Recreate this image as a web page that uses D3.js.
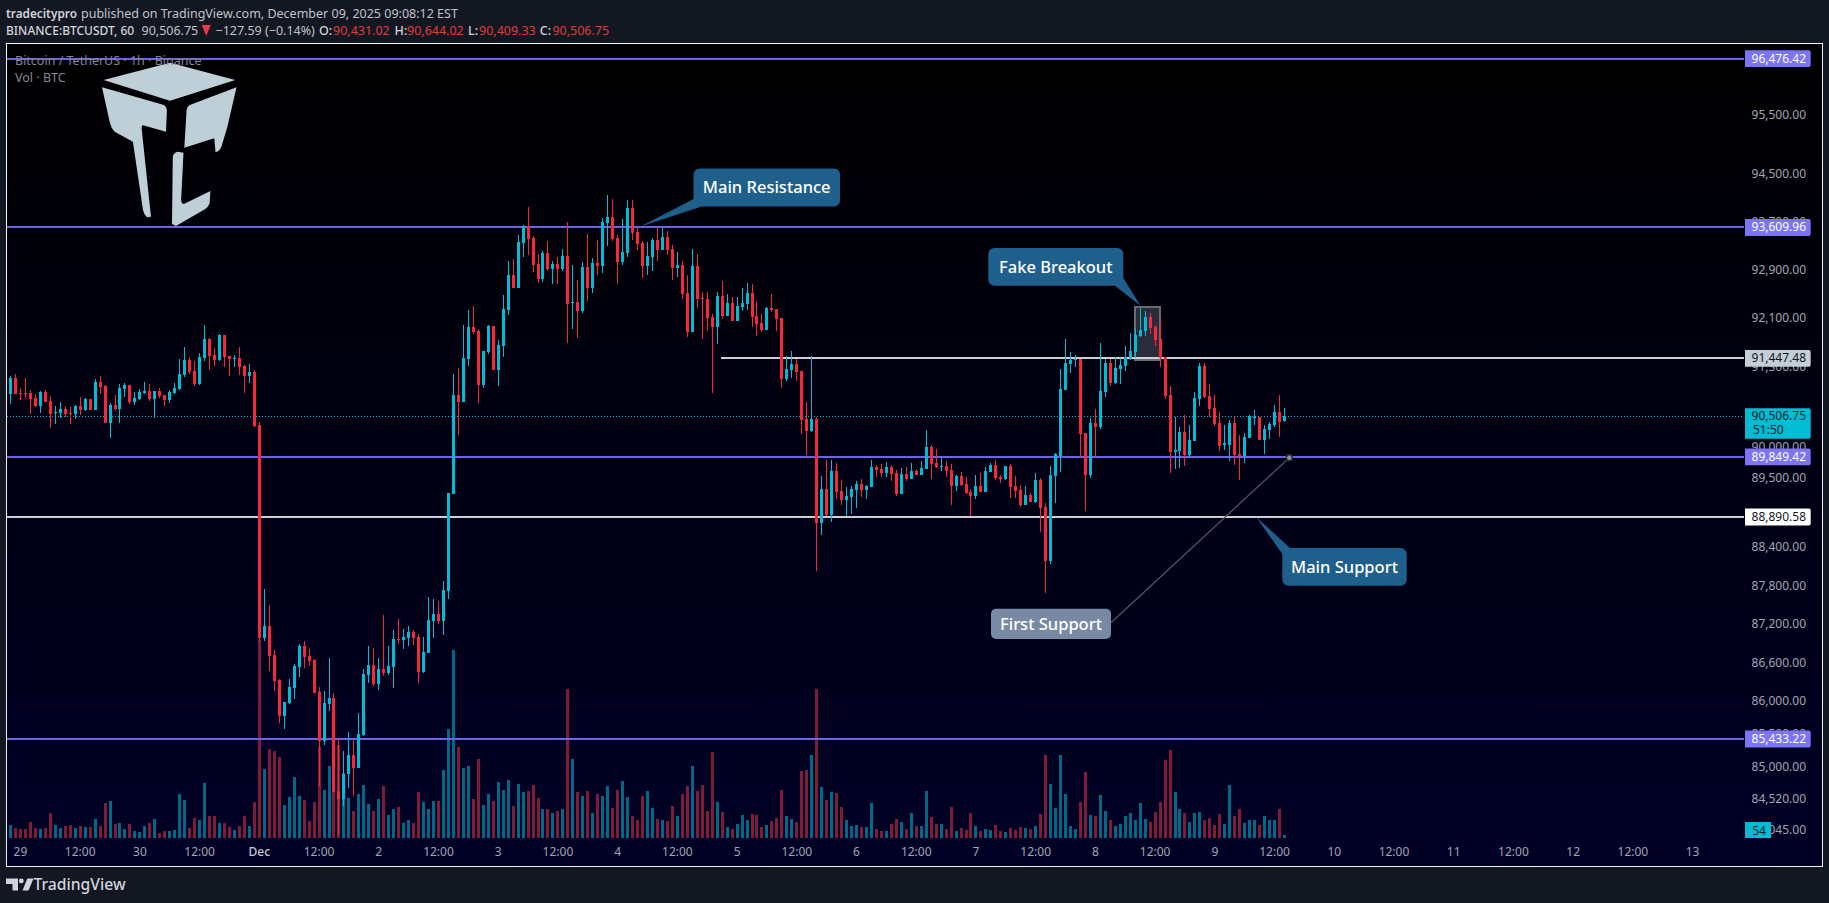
<!DOCTYPE html>
<html>
<head>
<meta charset="utf-8">
<style>
html,body{margin:0;padding:0;background:#131722;overflow:hidden}
svg{display:block}
text{font-family:"Noto Sans",sans-serif}
</style>
<script src="https://cdn.jsdelivr.net/npm/d3@7"></script>
</head>
<body>
<svg id="c" width="1829" height="903"></svg>
<script>
const opens=[
90866,91128,90882,90882,90882,90801,90670,90899,90752,90561,
90555,90621,90555,90539,90670,90604,90784,90604,91062,90997,
90392,90686,90621,90948,91013,90735,90784,90882,90915,90784,
90915,90850,90768,90882,90948,91177,91422,91242,91030,91455,
91765,91504,91422,91831,91487,91444,91455,91324,91160,91226,
90359,86988,87174,86724,86336,85778,85979,86212,86538,86864,
86708,86646,86150,85406,85964,86057,84646,84522,84894,85188,
84987,85499,86414,86569,86274,86507,86445,86538,86972,86957,
86988,87081,87003,86460,86755,87251,87360,87251,87718,89253,
90846,90738,91440,91962,91897,91016,91554,91979,91261,91652,
92240,92821,92604,93354,93637,93437,93004,92754,93187,92921,
93004,92921,93137,92354,92370,92223,92954,92604,93020,92971,
93687,93786,93437,93037,93187,93936,93537,93354,92971,93120,
93404,93237,93453,93254,92937,92987,92521,91881,92971,92438,
92421,92126,91962,92471,92142,92354,92060,92289,92338,92521,
92142,92028,91913,92272,92256,92109,91114,91261,91359,91244,
90461,90265,90460,88790,89336,88919,89625,89304,89160,89208,
89320,89416,89320,89368,89689,89657,89593,89689,89593,89256,
89577,89497,89625,89561,89657,90010,89753,89689,89705,89641,
89384,89545,89416,89288,89224,89384,89288,89609,89721,89529,
89497,89705,89384,89320,89079,89240,89127,89481,89047,88197,
89545,89869,90932,91357,91423,91439,90229,89559,90392,90327,
90899,91373,91046,91275,91324,91455,91553,91815,91897,92126,
91962,91766,91472,90850,89935,89951,90245,89886,90098,90785,
91324,90834,90638,90392,90049,90049,90392,89902,89869,90147,
90485,90491,90114,90278,90360,90572,90431.02];
const closes=[
91128,90866,90872,90872,90784,90670,90899,90735,90539,90572,
90621,90539,90539,90670,90604,90784,90604,91062,90980,90392,
90686,90621,90964,91013,90735,90801,90899,90915,90784,90915,
90833,90768,90899,90964,91193,91422,91226,91030,91471,91765,
91487,91422,91831,91471,91438,91455,91307,91160,91226,90343,
86993,87174,86708,86321,85778,85995,86228,86553,86864,86693,
86631,86135,85406,85979,86057,84630,84522,84894,85188,84987,
85514,86429,86569,86274,86507,86445,86553,86972,86957,87003,
87081,86988,86460,86770,87267,87360,87251,87732,89269,90846,
90733,91456,91962,91881,91016,91571,91979,91261,91669,92256,
92821,92604,93370,93637,93420,92987,92754,93187,92921,93004,
92921,93137,92338,92370,92223,92954,92604,93020,92971,93703,
93786,93420,93037,93204,93936,93520,93337,92971,93137,93404,
93237,93453,93237,92937,92987,92504,91881,92971,92421,92427,
92109,91962,92471,92142,92354,92060,92305,92354,92521,92126,
92011,91913,92272,92240,92093,91114,91277,91359,91228,90445,
90265,90461,88790,89336,88919,89625,89288,89160,89224,89336,
89416,89320,89384,89689,89641,89593,89689,89577,89256,89577,
89497,89625,89561,89673,90010,89737,89689,89705,89625,89384,
89545,89400,89272,89224,89384,89288,89625,89721,89513,89497,
89705,89368,89304,89079,89240,89127,89481,89031,88197,89561,
89898,90948,91373,91423,91439,90213,89559,90392,90327,90916,
91373,91046,91292,91341,91472,91570,91831,91913,92126,91946,
91750,91455,90834,89935,89967,90245,89886,90114,90801,91324,
90818,90621,90376,90033,90066,90392,89886,89869,90163,90507,
90491,90114,90294,90376,90572,90409,90506.75];
const highs=[
91160,91193,90964,91128,90932,90866,90915,90932,90833,90670,
90735,90670,90654,90686,90817,90801,90784,91111,91160,91013,
90719,90850,91030,91046,91013,90899,90948,91062,91030,90915,
90964,90850,90932,91046,91438,91634,91471,91406,91536,91994,
91782,91618,91847,91831,91487,91504,91634,91340,91357,91259,
90408,87748,87499,86802,86352,85995,86352,86584,86895,86941,
86817,86662,86228,86166,86677,86135,85452,85250,85545,85421,
85824,86507,86864,86833,86677,87344,86864,87112,87282,87127,
87174,87112,87050,87003,87624,87593,87561,87872,89269,91189,
91287,91995,92240,92305,91930,91571,91995,91979,91750,92488,
93054,93087,93487,93653,93953,93470,93170,93220,93387,93054,
93120,93254,93703,92987,92737,93037,93503,93104,93404,93770,
94153,94086,93487,93753,94070,94070,93603,93387,93370,93437,
93603,93603,93553,93320,93204,93054,92821,93254,93170,92538,
92538,92175,92538,92721,92504,92454,92454,92604,92688,92671,
92387,92175,92289,92504,92256,92109,91489,91571,91440,91244,
90738,91489,90497,89545,89801,89801,89753,89481,89368,89384,
89464,89497,89400,89801,89721,89737,89769,89721,89641,89673,
89689,89753,89657,89785,90283,90042,89978,89834,89785,89737,
89561,89609,89529,89336,89561,89593,89689,89753,89801,89561,
89705,89737,89545,89400,89384,89272,89593,89513,89111,89705,
89914,91275,91766,91553,91504,91439,90229,90474,90621,91700,
91439,91439,91472,91455,91651,91864,91946,92273,92224,92191,
91995,92126,91472,90997,90491,90327,90523,90360,90899,91373,
91373,91030,90850,90572,90360,90441,90491,90196,90229,90523,
90605,90491,90360,90409,90687,90850,90644.02];
const lows=[
90703,90866,90768,90801,90539,90654,90555,90735,90310,90376,
90474,90490,90376,90457,90523,90588,90604,90604,90866,90392,
90147,90604,90392,90817,90703,90686,90768,90866,90752,90474,
90801,90670,90719,90866,90932,91144,91193,90997,91013,91406,
91259,91324,91406,91307,91160,91307,91177,90882,91046,90327,
86950,86941,86476,86166,85685,85592,85964,86041,86383,86522,
86553,86135,84723,85344,85855,84630,83979,84413,84692,84568,
84987,85483,86290,86243,86181,86398,86414,86212,86895,86817,
86864,86879,86290,86445,86755,86988,87205,87034,87593,89253,
90199,90738,91326,91848,90722,90967,91522,91261,91000,91473,
92158,92604,92604,93120,93154,92871,92688,92704,92887,92671,
92671,92887,91701,91930,91783,92191,92387,92521,92821,92854,
93304,93387,92671,92987,93120,93404,93237,92771,92821,92887,
93054,93237,93154,92737,92787,92421,91799,91881,92272,91767,
91897,90885,91685,92093,92142,92060,92060,92223,92240,91962,
91815,91881,91913,92207,91897,90967,91081,91130,91081,90216,
89873,90249,88036,88598,88903,88806,89176,89079,88903,88935,
89031,89208,89176,89368,89529,89529,89529,89464,89224,89256,
89464,89497,89561,89561,89657,89497,89673,89625,89529,89079,
89304,89384,89256,88903,89176,89288,89288,89609,89481,89432,
89481,89192,89192,89047,89079,89127,89111,88646,87699,88148,
89111,89608,90932,91210,91308,89853,88990,89510,89853,90294,
90818,90997,91030,91030,91243,91423,91455,91799,91815,91848,
91651,91308,90785,89591,89657,89673,89706,89853,90098,90670,
90801,90491,90343,89951,89967,89787,89722,89477,89755,90147,
90360,90114,89902,90131,90327,90163,90409.33];
const volumes=[
234,180,162,162,288,180,162,180,450,234,
180,216,234,180,216,198,198,342,216,630,
666,252,270,162,252,126,108,216,270,342,
90,126,126,144,792,684,180,360,324,990,
396,396,270,270,198,144,216,396,216,648,
3564,1242,1602,1566,1458,594,738,1098,756,684,
306,648,1638,864,1296,2484,1674,1170,720,486,
792,954,612,486,702,936,414,522,558,270,
324,270,828,648,522,666,666,1224,1962,3384,
1638,1260,1296,702,1422,594,792,666,1008,864,
1044,576,972,828,846,954,720,522,522,450,
486,522,2682,1422,828,756,846,450,792,756,
936,540,864,1026,738,396,324,756,846,540,
342,324,306,576,396,792,936,1296,846,954,
486,1548,648,468,198,162,252,414,324,432,
414,198,234,306,360,864,396,342,288,1206,
1224,1494,2682,918,684,828,810,558,324,216,
234,198,198,630,162,126,126,252,342,288,
162,450,216,216,846,378,252,252,162,558,
126,180,144,450,216,126,162,144,234,126,
108,180,144,198,180,162,216,432,1494,972,
540,1494,792,216,162,648,1188,414,396,774,
486,324,216,252,396,450,324,630,342,288,
468,648,1404,1584,828,522,450,288,450,468,
324,360,234,432,252,954,396,522,270,324,
324,234,396,324,324,522,54];
const priceTicks=[95500,94500,93700,92900,92100,91300,90000,89500,88900,88400,87800,87200,86600,86000,85500,85000,84520,84045];
const purpleLevels=[96476.42,93609.96,89849.42,85433.22];
const whiteLevels=[{v:91447.48,from:142.8,box:"#c3ced6"},{v:88890.58,from:-1,box:"#ffffff"}];
const lastPrice=90506.75;
const countdown="51:50";
const timeLabels=["29","12:00","30","12:00","Dec","12:00","2","12:00","3","12:00","4","12:00","5","12:00","6","12:00","7","12:00","8","12:00","9","12:00","10","12:00","11","12:00","12","12:00","13"];

const W=1829,H=903;
const svg=d3.select("#c");
const RED="#f7283c",BLUE="#00bcd4",PURPLE="#6c63ea",CALL="#1f5f8b";
const x=d3.scaleLinear().domain([0,256]).range([10.5,1284.5]);
const y=d3.scaleLog().domain([96476.42,85433.22]).range([58.7,739]);
const vy=d3.scaleLinear().domain([0,3600]).range([838,638]);
const bx=i=>Math.round(x(i)-1.5);

const defs=svg.append("defs");
const g=defs.append("linearGradient").attr("id","bg").attr("x1",0).attr("x2",0).attr("y1",0).attr("y2",1);
g.append("stop").attr("offset","0%").attr("stop-color","#000000");
g.append("stop").attr("offset","100%").attr("stop-color","#000026");

svg.append("rect").attr("x",6.5).attr("y",43.5).attr("width",1816).attr("height",823)
  .attr("fill","url(#bg)").attr("stroke","#f0f3fa").attr("stroke-width",1);

// volume
const n=d3.range(volumes.length);
svg.append("g").selectAll("rect").data(n).join("rect")
  .attr("x",bx).attr("width",3).attr("y",i=>vy(volumes[i])).attr("height",i=>vy(0)-vy(volumes[i]))
  .attr("fill",i=>closes[i]>=opens[i]?"#006a86":"#7f1c38").attr("shape-rendering","crispEdges");

// fake breakout rectangle
svg.append("rect").attr("x",1135).attr("y",307).attr("width",25).attr("height",53)
  .attr("fill","#2a2d39").attr("stroke","#676b76").attr("stroke-width",2);

// level lines
const lines=svg.append("g").attr("shape-rendering","crispEdges");
lines.append("line").attr("x1",7).attr("x2",1742).attr("y1",y(lastPrice)).attr("y2",y(lastPrice))
  .attr("stroke",BLUE).attr("stroke-width",1).attr("stroke-dasharray","1 2");
purpleLevels.forEach(v=>{
  lines.append("line").attr("x1",7).attr("x2",1744).attr("y1",y(v)).attr("y2",y(v)).attr("stroke",PURPLE).attr("stroke-width",2);
});
whiteLevels.forEach(d=>{
  lines.append("line").attr("x1",d.from<0?7:x(d.from)).attr("x2",1744).attr("y1",y(d.v)).attr("y2",y(d.v)).attr("stroke","#cdd1d6").attr("stroke-width",2);
});

// candles
const cg=svg.append("g").attr("shape-rendering","crispEdges");
cg.selectAll("rect.w").data(n).join("rect").attr("class","w")
  .attr("x",i=>bx(i)+1).attr("width",1).attr("y",i=>y(highs[i])).attr("height",i=>Math.max(1,y(lows[i])-y(highs[i])))
  .attr("fill",i=>closes[i]>=opens[i]?BLUE:RED);
cg.selectAll("rect.b").data(n).join("rect").attr("class","b")
  .attr("x",bx).attr("width",3).attr("y",i=>y(Math.max(opens[i],closes[i])))
  .attr("height",i=>Math.max(1,Math.abs(y(opens[i])-y(closes[i]))))
  .attr("fill",i=>closes[i]>=opens[i]?BLUE:RED);

// logo
const LOGO="#bfcfd8";
[
 "M103.6 80L170 62.7L235.3 80L170 100.7Z",
 "M102 87.3L164 105Q167 107 166.9 110L166 131.7L143.1 125.3Q141.4 125.5 141.6 128.3L151 216.7L147 217.3Q144 215 143 210L132.9 141.7L114.7 131.7Q111 128 110 123.3Z",
 "M236.5 87.3L227.4 126.7L221.4 146.7Q219 152 215.5 152L214.3 138.3L184.3 147.7L186.6 110Q187 106.5 189.8 105Z",
 "M172.8 156.7Q173.5 152.5 178 151.7L183.5 152.7L181.1 200Q181.5 204 183.9 204L210.4 191L209.6 203.3Q208 208 203.6 210L176 226L172 224Z"
].forEach(d=>svg.append("path").attr("d",d).attr("fill",LOGO));

// legend
svg.append("text").attr("x",15).attr("y",65).attr("font-size",12.5).attr("fill","#83868f").text("Bitcoin / TetherUS · 1h · Binance");
svg.append("text").attr("x",15).attr("y",82).attr("font-size",12.5).attr("fill","#83868f").text("Vol · BTC");

// price axis ticks
const ticksG=svg.append("g");
priceTicks.forEach(v=>{
  ticksG.append("text").attr("x",1806).attr("y",y(v)+3.5).attr("text-anchor","end").attr("font-size",12).attr("fill","#a3a6af").text(d3.format(",.2f")(v));
});

// level labels
function label(v,fill,tc){
  const cy=y(v);
  svg.append("path").attr("d",`M1745 ${cy-8.4}H1808.7q2 0 2 2V${cy+6.4}q0 2 -2 2H1745Z`).attr("fill",fill);
  svg.append("text").attr("x",1806).attr("y",cy+4).attr("text-anchor","end").attr("font-size",12).attr("fill",tc).text(d3.format(",.2f")(v));
}
purpleLevels.forEach(v=>label(v,"#7b74f7","#ffffff"));
whiteLevels.forEach(d=>label(d.v,d.box,"#131722"));

// last price label
const ly=y(lastPrice);
svg.append("path").attr("d",`M1745 ${ly-8}H1808.7q2 0 2 2V${ly+20.7}q0 2 -2 2H1745Z`).attr("fill",BLUE);
svg.append("text").attr("x",1806).attr("y",ly+4).attr("text-anchor","end").attr("font-size",12).attr("fill","#0b1a22").text(d3.format(",.2f")(lastPrice));
svg.append("text").attr("x",1753).attr("y",ly+18).attr("font-size",12).attr("fill","#0b1a22").text(countdown);

// last volume label
svg.append("rect").attr("x",1745).attr("y",822).attr("width",26).attr("height",16).attr("fill",BLUE);
svg.append("text").attr("x",1759).attr("y",834.5).attr("text-anchor","middle").attr("font-size",12).attr("fill","#0b1a22").text(volumes[volumes.length-1]);

// time axis
timeLabels.forEach((t,k)=>{
  svg.append("text").attr("x",x(2+12*k)).attr("y",855.5).attr("text-anchor","middle").attr("font-size",12)
    .attr("fill",t==="Dec"?"#c3c6ce":"#a3a6af").attr("font-weight",t==="Dec"?500:400).text(t);
});

// callouts
function callout(d,tx,ty,txt){
  svg.append("path").attr("d",d).attr("fill",CALL);
  svg.append("text").attr("x",tx).attr("y",ty).attr("text-anchor","middle").attr("font-size",16.5).attr("font-weight",500).attr("fill","#ffffff").text(txt);
}
callout("M699.5 168.5H834a6 6 0 0 1 6 6V200.5a6 6 0 0 1 -6 6H701.7L640 226.7L693.5 199V174.5a6 6 0 0 1 6 -6Z",766.7,192.5,"Main Resistance");
callout("M994.3 248H1117.3a6 6 0 0 1 6 6V278L1140.7 306L1115 285.7H994.3a6 6 0 0 1 -6 -6V254a6 6 0 0 1 6 -6Z",1055.8,272.5,"Fake Breakout");
callout("M1290 548H1400.7a6 6 0 0 1 6 6V579.7a6 6 0 0 1 -6 6H1288.3a6 6 0 0 1 -6 -6V554L1256 516.7Z",1344.5,572.5,"Main Support");

// first support
svg.append("line").attr("x1",1111).attr("y1",622.7).attr("x2",1289.3).attr("y2",457.7).attr("stroke","#4d5566").attr("stroke-width",1.3);
svg.append("circle").attr("cx",1289.3).attr("cy",457.7).attr("r",3).attr("fill","#8a8f9c").attr("stroke","#2a2e39").attr("stroke-width",1.5);
svg.append("rect").attr("x",991).attr("y",608.7).attr("width",120).attr("height",30.3).attr("rx",5).attr("fill","#788aa3");
svg.append("text").attr("x",1051).attr("y",629.5).attr("text-anchor","middle").attr("font-size",16.5).attr("font-weight",500).attr("fill","#ffffff").text("First Support");

// header
const hdr=svg.append("g");
const ht=(xx,yy,t,fill,w,fs)=>hdr.append("text").attr("x",xx).attr("y",yy).attr("font-size",fs||12.5).attr("fill",fill).attr("font-weight",w||400).text(t);
ht(6,17.5,"tradecitypro","#d1d4dc",600,11.8);
ht(81,17.5,"published on TradingView.com, December 09, 2025 09:08:12 EST","#c0c3cb");
ht(6,34.5,"BINANCE:BTCUSDT, 60","#d1d4dc",500,12);
ht(141.5,34.5,"90,506.75","#c0c3cb");
hdr.append("path").attr("d","M201.7 25H210.8L206.2 36Z").attr("fill","#f23645");
ht(215.5,34.5,"−127.59 (−0.14%)","#c0c3cb");
ht(319,34.5,"O:","#d1d4dc",500);ht(333,34.5,"90,431.02","#e5383b");
ht(394.6,34.5,"H:","#d1d4dc",500);ht(407,34.5,"90,644.02","#e5383b");
ht(468,34.5,"L:","#d1d4dc",500);ht(479,34.5,"90,409.33","#e5383b");
ht(539.7,34.5,"C:","#d1d4dc",500);ht(552.4,34.5,"90,506.75","#e5383b");

// footer
const F="#d1d4dc";
svg.append("path").attr("d","M6 878.5H18V890.5H12.5V884H6Z").attr("fill",F);
svg.append("circle").attr("cx",21.3).attr("cy",881).attr("r",2.4).attr("fill",F);
svg.append("path").attr("d","M22.5 890.5L27.3 878.5H33.5L28.5 890.5Z").attr("fill",F);
svg.append("text").attr("x",33.5).attr("y",890).attr("font-size",15.7).attr("font-weight",500).attr("fill",F).text("TradingView");
</script>
</body>
</html>
